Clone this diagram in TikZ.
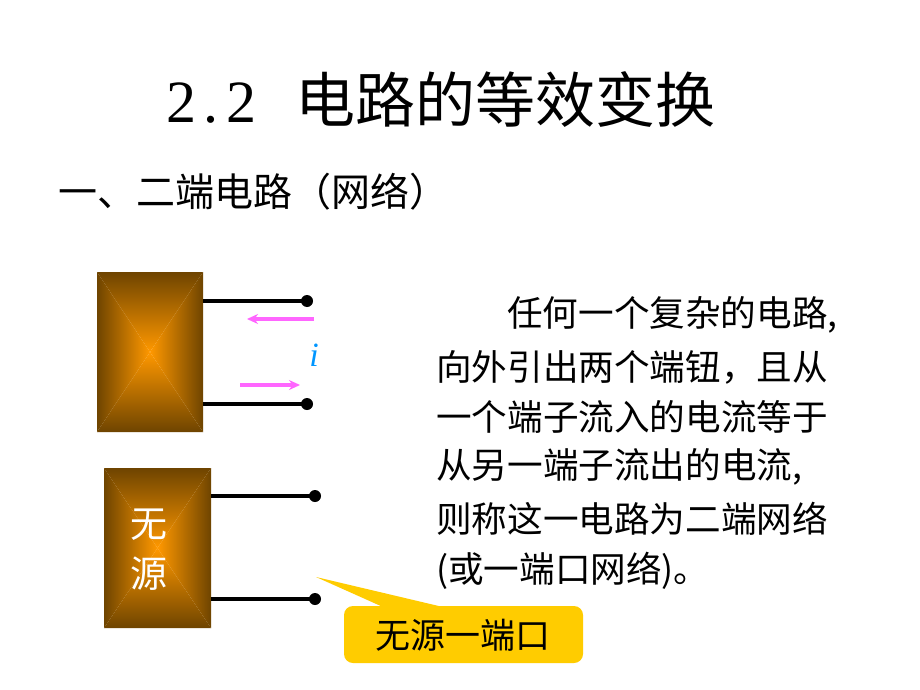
\documentclass[tikz,border=0pt]{standalone}
\usepackage{fontspec}
\setmainfont{Noto Sans CJK SC}
\newfontfamily\latinserif{Liberation Serif}
\usetikzlibrary{arrows.meta}
\definecolor{edgebrown}{RGB}{110,68,0}
\definecolor{midorange}{RGB}{255,152,0}
\definecolor{pinkarrow}{RGB}{255,102,255}
\definecolor{ibLue}{RGB}{0,150,255}
\definecolor{calloutyellow}{RGB}{255,204,0}
\tikzset{
  wire/.style={line width=3.6pt, black},
  terminal/.style={circle, fill=black, inner sep=0pt, minimum size=12pt},
  curarrow/.style={line width=3.4pt, pinkarrow, -{Stealth[length=11pt,width=10pt]}},
  bodytext/.style={anchor=west, inner sep=0pt, font=\fontsize{35.6}{35.6}\selectfont},
}
\newcommand{\pyrbox}[5]{%
  \coordinate (#1-tl) at (#2,#3);
  \coordinate (#1-br) at (#4,#5);
  \coordinate (#1-tr) at (#4,#3);
  \coordinate (#1-bl) at (#2,#5);
  \coordinate (#1-c) at ({(#2+#4)/2},{(#3+#5)/2});
  \shade[top color=edgebrown, bottom color=midorange] (#1-tl) -- (#1-tr) -- (#1-c) -- cycle;
  \shade[bottom color=edgebrown, top color=midorange] (#1-bl) -- (#1-br) -- (#1-c) -- cycle;
  \shade[left color=edgebrown, right color=midorange] (#1-tl) -- (#1-bl) -- (#1-c) -- cycle;
  \shade[right color=edgebrown, left color=midorange] (#1-tr) -- (#1-br) -- (#1-c) -- cycle;
}
\begin{document}
\begin{tikzpicture}[x=1pt, y=-1pt]
\useasboundingbox (0,0) rectangle (920,690);
\fill[white] (0,0) rectangle (920,690);

% title
\node[anchor=west, inner sep=0pt] (title) at (166,100)
  {\fontsize{60}{60}\selectfont{\latinserif\makebox[0.5em]{2}\makebox[0.5em]{.}\makebox[0.5em]{2}}\hspace{0.65em}电路的等效变换};
\node[anchor=west, inner sep=0pt] (subtitle) at (58,192)
  {\fontsize{39}{39}\selectfont 一、二端电路（网络）};

% box 1
\pyrbox{boxA}{97}{272}{203}{432}
\coordinate (a1) at (203,301);
\coordinate (a2) at (203,404);
\node[terminal] (t1) at (307,301) {};
\node[terminal] (t2) at (307,404) {};
\draw[wire] (a1) -- (t1.center);
\draw[wire] (a2) -- (t2.center);
\coordinate (ia1) at (314,319);
\coordinate (ia2) at (247,319);
\coordinate (ib1) at (240,385);
\coordinate (ib2) at (300,385);
\draw[curarrow] (ia1) -- (ia2);
\draw[curarrow] (ib1) -- (ib2);
\node[text=ibLue, font=\fontsize{34}{34}\selectfont\itshape\latinserif] (ilabel) at (314,355) {i};

% box 2
\pyrbox{boxB}{104}{468}{211}{628}
\node[text=white, font=\fontsize{37}{37}\selectfont, inner sep=0pt] (wu) at (149,525) {无};
\node[text=white, font=\fontsize{37}{37}\selectfont, inner sep=0pt] (yuan) at (149,574) {源};
\coordinate (b1) at (211,496);
\coordinate (b2) at (211,599);
\node[terminal] (t3) at (315,496) {};
\node[terminal] (t4) at (315,599) {};
\draw[wire] (b1) -- (t3.center);
\draw[wire] (b2) -- (t4.center);

% callout
\coordinate (tip) at (316,577);
\fill[calloutyellow, rounded corners=9pt] (344,606) rectangle (583,663);
\fill[calloutyellow] (tip) -- (383,607) -- (443,607) -- cycle;
\node[font=\fontsize{35}{35}\selectfont, inner sep=0pt] (callout) at (463,635) {无源一端口};

% body text
\node[bodytext] (l1) at (507,315) {任何一个复杂的电路,};
\node[bodytext] (l2) at (436,367) {向外引出两个端钮，且从};
\node[bodytext] (l3) at (436,417) {一个端子流入的电流等于};
\node[bodytext] (l4) at (436,467) {从另一端子流出的电流,};
\node[bodytext] (l5) at (436,519) {则称这一电路为二端网络};
\node[bodytext] (l6) at (436,571) {(或一端口网络)。};
\end{tikzpicture}
\end{document}
